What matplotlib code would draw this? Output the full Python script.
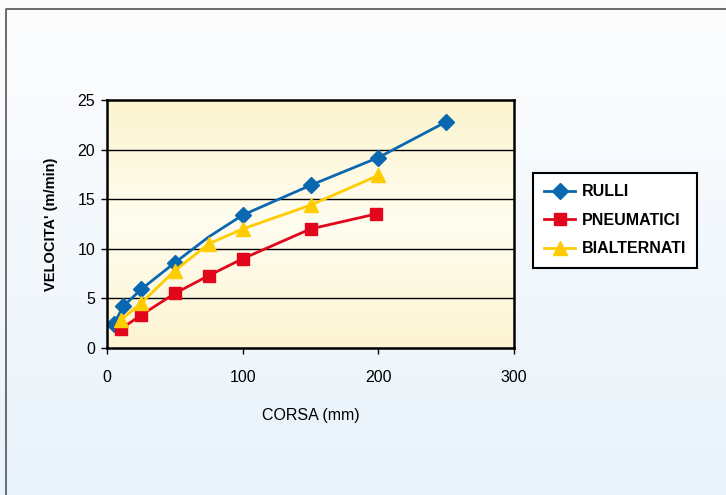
import numpy as np
import matplotlib
matplotlib.use('Agg')
import matplotlib.pyplot as plt
from matplotlib.colors import LinearSegmentedColormap

plt.rcParams['font.family'] = ['Liberation Sans', 'DejaVu Sans']

# dati
rulli_x = [5, 12, 25, 50, 75, 100, 150, 200, 250]
rulli_y = [2.4, 4.2, 5.9, 8.6, 11.2, 13.4, 16.4, 19.2, 22.8]
rulli_mark = [0, 1, 2, 3, 5, 6, 7, 8]   # a 75 nessun marcatore

pneu_x = [10, 25, 50, 75, 100, 150, 198]
pneu_y = [1.9, 3.3, 5.5, 7.3, 9.0, 12.0, 13.5]

bial_x = [10, 25, 50, 75, 100, 150, 200]
bial_y = [2.8, 4.5, 7.8, 10.5, 12.0, 14.4, 17.4]

labels = ['RULLI', 'PNEUMATICI', 'BIALTERNATI']
colori = ['#0a68b0', '#e2061c', '#ffcc00']

W, H = 726, 495
fig = plt.figure(figsize=(W / 100, H / 100), dpi=100)

# sfondo figura con sfumatura
bg = fig.add_axes([0, 0, 1, 1], zorder=-10)
grad = np.linspace(0, 1, 256).reshape(-1, 1)
cm_bg = LinearSegmentedColormap.from_list('bg', ['#fdfdfe', '#e9f3fb'])
bg.imshow(grad, aspect='auto', cmap=cm_bg, extent=[0, 1, 0, 1], origin='upper')
bg.set_xlim(0, 1)
bg.set_ylim(0, 1)
bg.axis('off')
# cornice esterna
bg.plot([6 / W, 6 / W, 1.0], [0, 1 - 9 / H, 1 - 9 / H], color='#555555', lw=1.2,
        solid_capstyle='butt')

x0, x1 = 107, 514
y0, y1 = 100, 348
ax = fig.add_axes([x0 / W, 1 - y1 / H, (x1 - x0) / W, (y1 - y0) / H])

cm_plot = LinearSegmentedColormap.from_list('pl', ['#fcf4cf', '#fffdf0', '#fcf4d2'])
ax.imshow(grad, aspect='auto', cmap=cm_plot, extent=[0, 300, 0, 25], origin='upper', zorder=0)

ax.set_xlim(0, 300)
ax.set_ylim(0, 25)
ax.set_yticks([0, 5, 10, 15, 20, 25])
ax.set_xticks([0, 100, 200, 300])
for yv in [5, 10, 15, 20]:
    ax.axhline(yv, color='black', lw=1.0, zorder=1)

ax.plot(rulli_x, rulli_y, color=colori[0], lw=2, marker='D', ms=8,
        markevery=rulli_mark, label=labels[0], zorder=3)
ax.plot(pneu_x, pneu_y, color=colori[1], lw=2, marker='s', ms=9,
        label=labels[1], zorder=3)
ax.plot(bial_x, bial_y, color=colori[2], lw=2, marker='^', ms=9.5,
        label=labels[2], zorder=3)

for s in ax.spines.values():
    s.set_linewidth(1.8)
    s.set_color('black')
    s.set_zorder(5)
ax.tick_params(direction='out', length=4.5, width=1, colors='black', labelsize=11.5, pad=4)
ax.tick_params(axis='x', pad=11)

ax.set_xlabel('CORSA (mm)', fontsize=11.5, labelpad=17)
ax.set_ylabel("VELOCITA' (m/min)", fontsize=10.5, fontweight='bold', labelpad=14)

leg = ax.legend(loc='upper left', bbox_to_anchor=((533 - x0) / (x1 - x0), 1 - (173 - y0) / (y1 - y0)),
                frameon=True, fancybox=False, framealpha=1, edgecolor='black',
                prop={'weight': 'bold', 'size': 11.5}, borderpad=0.7, labelspacing=0.85,
                handlelength=1.95, handletextpad=0.4, borderaxespad=0)
leg.get_frame().set_linewidth(1.5)

fig.savefig('out.png', dpi=100)
